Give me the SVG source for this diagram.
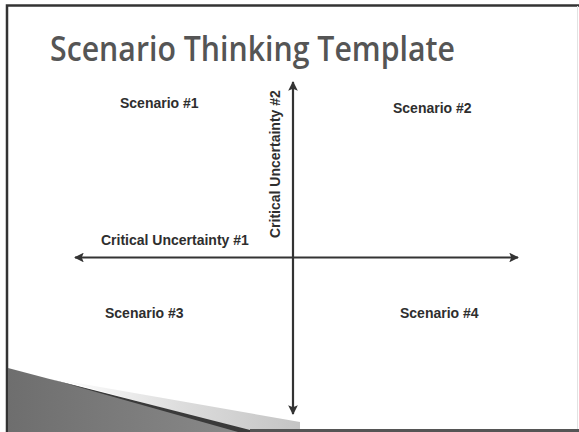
<svg xmlns="http://www.w3.org/2000/svg" width="579" height="432" viewBox="0 0 579 432">
<defs>
<style>
.lbl{font-family:"Liberation Sans",Arial,sans-serif;font-weight:bold;font-size:14px;fill:#2e2e2e}
.axis{stroke:#333;stroke-width:2.2;fill:none}
</style>
<marker id="ah" viewBox="0 0 10 10" refX="9" refY="5" markerWidth="5" markerHeight="4.4" orient="auto-start-reverse" markerUnits="strokeWidth">
<path d="M0,0 L10,5 L0,10 L2,5 z" fill="#333"/>
</marker>
<linearGradient id="lg" x1="0" y1="0" x2="1" y2="0">
<stop offset="0" stop-color="#fff"/>
<stop offset="0.5" stop-color="#ddd"/>
<stop offset="1" stop-color="#c4c4c4"/>
</linearGradient>
<linearGradient id="dg" x1="0" y1="0" x2="1" y2="0">
<stop offset="0" stop-color="#6e6e6e"/>
<stop offset="1" stop-color="#8a8a8a"/>
</linearGradient>
</defs>
<rect width="579" height="432" fill="#fff"/>
<g id="frame">
<path d="M7,432 V5.5 H579" stroke="#333" stroke-width="2.5" fill="none"/>
<line x1="577.5" y1="6" x2="577.5" y2="430" stroke="#e2e2e2" stroke-width="1"/>
</g>
<g id="swoosh">
<polygon points="60,380 300,422 300,432 250,432" fill="url(#lg)"/>
<polygon points="8,368 250,432 8,432" fill="url(#dg)"/>
<polygon points="50,379 258,432 238,432" fill="#3a3a3a"/>
<line x1="250" y1="430.5" x2="579" y2="430.5" stroke="#555" stroke-width="3"/>
</g>
<g id="title">
<text x="50" y="61" font-family="'Open Sans',Lato,sans-serif" font-weight="600" font-size="35" fill="#555" textLength="405" lengthAdjust="spacingAndGlyphs">Scenario Thinking Template</text>
</g>
<g id="connectors">
<line class="axis" x1="293" y1="414" x2="293" y2="82" marker-start="url(#ah)" marker-end="url(#ah)"/>
<line class="axis" x1="75" y1="257.5" x2="518" y2="257.5" marker-start="url(#ah)" marker-end="url(#ah)"/>
</g>
<g id="scenario1"><text class="lbl" x="120" y="108">Scenario #1</text></g>
<g id="scenario2"><text class="lbl" x="393" y="113">Scenario #2</text></g>
<g id="scenario3"><text class="lbl" x="105" y="318">Scenario #3</text></g>
<g id="scenario4"><text class="lbl" x="400" y="318">Scenario #4</text></g>
<g id="cu1"><text class="lbl" x="101" y="245">Critical Uncertainty #1</text></g>
<g id="cu2"><text class="lbl" transform="translate(280,238) rotate(-90)" x="0" y="0">Critical Uncertainty #2</text></g>
</svg>
